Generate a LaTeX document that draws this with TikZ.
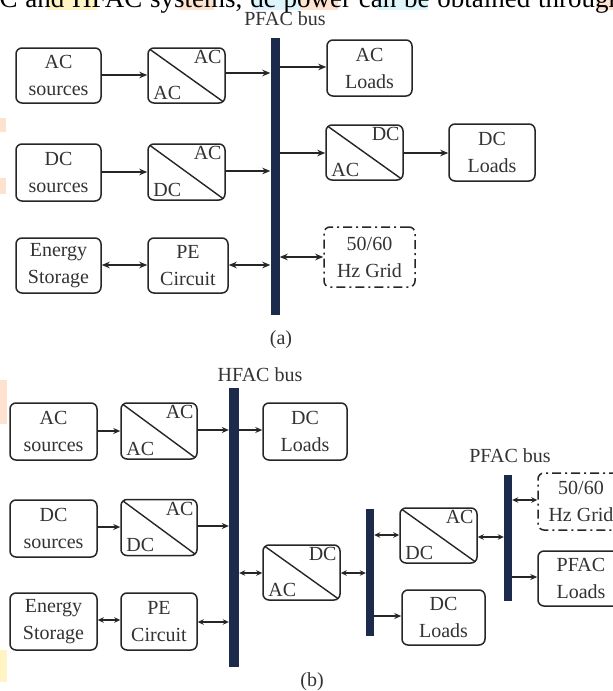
\documentclass[tikz,border=0pt]{standalone}
\usepackage{fontspec}
\setmainfont{Liberation Serif}
\usetikzlibrary{arrows.meta,calc}
\definecolor{ink}{HTML}{262626}
\definecolor{txt}{HTML}{333333}
\definecolor{busc}{HTML}{1C2B4B}
\definecolor{hly}{HTML}{FFF5C4}
\definecolor{hlo}{HTML}{FDE2CF}
\definecolor{hlb}{HTML}{DDF5FA}
\begin{document}
\begin{tikzpicture}[x=1pt,y=-1pt,
  blk/.style={draw=ink, line width=1.5pt, rounded corners=6pt, fill=white, align=center,
    text=txt, font=\fontsize{20}{27}\selectfont, inner sep=0pt},
  conv/.style={blk, path picture={\draw[ink, line width=1.4pt]
    (path picture bounding box.north west) -- (path picture bounding box.south east);}},
  gridbox/.style={blk, dash pattern=on 9pt off 4pt on 2pt off 4pt},
  cl/.style={text=txt, font=\fontsize{20}{24}\selectfont, inner sep=1pt},
  lbl/.style={text=txt, font=\fontsize{20}{24}\selectfont, inner sep=0pt},
  busbar/.style={fill=busc, draw=none, inner sep=0pt},
  arr/.style={draw=ink, line width=1.3pt, -{Stealth[length=8pt,width=6.5pt]}},
  darr/.style={draw=ink, line width=1.3pt, {Stealth[length=8pt,width=6.5pt]}-{Stealth[length=8pt,width=6.5pt]}},
  sarr/.style={draw=ink, line width=1.3pt, -{Stealth[length=7pt,width=6pt]}},
  sdarr/.style={draw=ink, line width=1.3pt, {Stealth[length=6pt,width=5.5pt]}-{Stealth[length=6pt,width=5.5pt]}}
]
\useasboundingbox (0,0) rectangle (613,691);
\clip (0,0) rectangle (613,691);
\fill[white] (0,0) rectangle (613,691);

% faint highlight marks of the surrounding page
\fill[hly] (47,0) rectangle (97,10);
\fill[hlo] (180,0) rectangle (214,10);
\fill[hlb] (252,0) rectangle (310,10);
\fill[hlo] (300,0) rectangle (338,10);
\fill[hlb] (377,0) rectangle (428,10);
\fill[hlo] (596,0) rectangle (613,10);
\fill[hlo] (0,118) rectangle (6,132);
\fill[hlo] (0,178) rectangle (6,194);
\fill[hlo] (0,380) rectangle (7,424);
\fill[hly] (0,650) rectangle (7,682);

% cropped body text at top
\node[anchor=base west, inner sep=0pt, text=black, font=\fontsize{27}{27}\selectfont] (toptext) at (-20,7)
  {\hbox to 642pt{AC and HFAC systems, dc power can be obtained through}};

% ---------------- (a) ----------------
\node[lbl, anchor=base] (pbA) at (285,25) {PFAC bus};
\node[busbar, minimum width=9, minimum height=277] (busA) at (275,176.5) {};

\node[blk, minimum width=85, minimum height=55] (acsA) at (58.5,75.5) {AC\\sources};
\node[conv, minimum width=77, minimum height=55] (c1A) at (186.5,75.5) {};
\node[cl, anchor=north east] (c1At) at ([xshift=-3pt,yshift=-2pt]c1A.north east) {AC};
\node[cl, anchor=south west] (c1Ab) at ([xshift=5pt,yshift=3pt]c1A.south west) {AC};

\node[blk, minimum width=85, minimum height=57] (dcsA) at (58.5,172.5) {DC\\sources};
\node[conv, minimum width=77, minimum height=56] (c2A) at (186.5,172) {};
\node[cl, anchor=north east] (c2At) at ([xshift=-3pt,yshift=-2pt]c2A.north east) {AC};
\node[cl, anchor=south west] (c2Ab) at ([xshift=5pt,yshift=3pt]c2A.south west) {DC};

\node[blk, minimum width=85, minimum height=55] (esA) at (58.5,265.5) {Energy\\Storage};
\node[blk, minimum width=80, minimum height=55] (peA) at (188,265.5) {PE\\Circuit};

\node[blk, minimum width=85, minimum height=56] (aclA) at (369.5,68) {AC\\Loads};
\node[conv, minimum width=77, minimum height=55] (c3A) at (364.5,152.5) {};
\node[cl, anchor=north east] (c3At) at ([xshift=-3pt,yshift=-2pt]c3A.north east) {DC};
\node[cl, anchor=south west] (c3Ab) at ([xshift=5pt,yshift=3pt]c3A.south west) {AC};
\node[blk, minimum width=86, minimum height=57] (dclA) at (492,152.5) {DC\\Loads};
\node[gridbox, minimum width=91, minimum height=60] (gridA) at (369.5,257) {50/60\\Hz Grid};

\draw[arr] (acsA.east |- 0,75) -- (c1A.west |- 0,75);
\draw[arr] (c1A.east |- 0,73) -- (busA.west |- 0,73);
\draw[arr] (busA.east |- 0,67) -- (aclA.west |- 0,67);
\draw[arr] (dcsA.east |- 0,172) -- (c2A.west |- 0,172);
\draw[arr] (c2A.east |- 0,171) -- (busA.west |- 0,171);
\draw[arr] (busA.east |- 0,153) -- (c3A.west |- 0,153);
\draw[arr] (c3A.east |- 0,153) -- (dclA.west |- 0,153);
\draw[darr] (esA.east |- 0,265) -- (peA.west |- 0,265);
\draw[darr] (peA.east |- 0,265) -- (busA.west |- 0,265);
\draw[darr] (busA.east |- 0,257) -- (gridA.west |- 0,257);

\node[lbl] (capA) at (281,340) {(a)};

% ---------------- (b) ----------------
\node[lbl, anchor=base] (hbB) at (260,381) {HFAC bus};
\node[busbar, minimum width=10, minimum height=279] (busB) at (234,527.5) {};
\node[busbar, minimum width=8, minimum height=127] (dcbB) at (370,572.5) {};
\node[lbl, anchor=base] (pbB) at (510,462) {PFAC bus};
\node[busbar, minimum width=8, minimum height=126] (pfbB) at (508,538) {};

\node[blk, minimum width=87, minimum height=57] (acsB) at (53.5,431.5) {AC\\sources};
\node[conv, minimum width=76, minimum height=56] (c1B) at (159,431) {};
\node[cl, anchor=north east] (c1Bt) at ([xshift=-3pt,yshift=-2pt]c1B.north east) {AC};
\node[cl, anchor=south west] (c1Bb) at ([xshift=5pt,yshift=3pt]c1B.south west) {AC};

\node[blk, minimum width=87, minimum height=57] (dcsB) at (53.5,528.5) {DC\\sources};
\node[conv, minimum width=76, minimum height=56] (c2B) at (159,527.5) {};
\node[cl, anchor=north east] (c2Bt) at ([xshift=-3pt,yshift=-2pt]c2B.north east) {AC};
\node[cl, anchor=south west] (c2Bb) at ([xshift=5pt,yshift=3pt]c2B.south west) {DC};

\node[blk, minimum width=87, minimum height=57] (esB) at (53.5,621.5) {Energy\\Storage};
\node[blk, minimum width=76, minimum height=57] (peB) at (159,621.5) {PE\\Circuit};

\node[blk, minimum width=84, minimum height=57] (dcl1B) at (305,431.5) {DC\\Loads};
\node[conv, minimum width=77, minimum height=55] (c3B) at (301.5,572.5) {};
\node[cl, anchor=north east] (c3Bt) at ([xshift=-3pt,yshift=-2pt]c3B.north east) {DC};
\node[cl, anchor=south west] (c3Bb) at ([xshift=5pt,yshift=3pt]c3B.south west) {AC};

\node[conv, minimum width=77, minimum height=55] (c4B) at (438.5,535.5) {};
\node[cl, anchor=north east] (c4Bt) at ([xshift=-3pt,yshift=-2pt]c4B.north east) {AC};
\node[cl, anchor=south west] (c4Bb) at ([xshift=5pt,yshift=3pt]c4B.south west) {DC};
\node[blk, minimum width=83, minimum height=55] (dcl2B) at (443.5,617.5) {DC\\Loads};

\node[gridbox, minimum width=86, minimum height=57] (gridB) at (581,501.5) {50/60\\Hz Grid};
\node[blk, minimum width=86, minimum height=55] (pflB) at (581,578.5) {PFAC\\Loads};

\draw[sarr] (acsB.east |- 0,431) -- (c1B.west |- 0,431);
\draw[sarr] (c1B.east |- 0,430) -- (busB.west |- 0,430);
\draw[sarr] (busB.east |- 0,430) -- (dcl1B.west |- 0,430);
\draw[sarr] (dcsB.east |- 0,527) -- (c2B.west |- 0,527);
\draw[sarr] (c2B.east |- 0,526) -- (busB.west |- 0,526);
\draw[sdarr] (esB.east |- 0,620) -- (peB.west |- 0,620);
\draw[sdarr] (peB.east |- 0,622) -- (busB.west |- 0,622);
\draw[sdarr] (busB.east |- 0,573) -- (c3B.west |- 0,573);
\draw[sdarr] (c3B.east |- 0,573) -- (dcbB.west |- 0,573);
\draw[sdarr] (dcbB.east |- 0,535) -- (c4B.west |- 0,535);
\draw[sdarr] (c4B.east |- 0,537) -- (pfbB.west |- 0,537);
\draw[sarr] (dcbB.east |- 0,616) -- (dcl2B.west |- 0,616);
\draw[sdarr] (pfbB.east |- 0,500) -- (gridB.west |- 0,500);
\draw[sarr] (pfbB.east |- 0,577) -- (pflB.west |- 0,577);

\node[lbl] (capB) at (312,682) {(b)};
\end{tikzpicture}
\end{document}
